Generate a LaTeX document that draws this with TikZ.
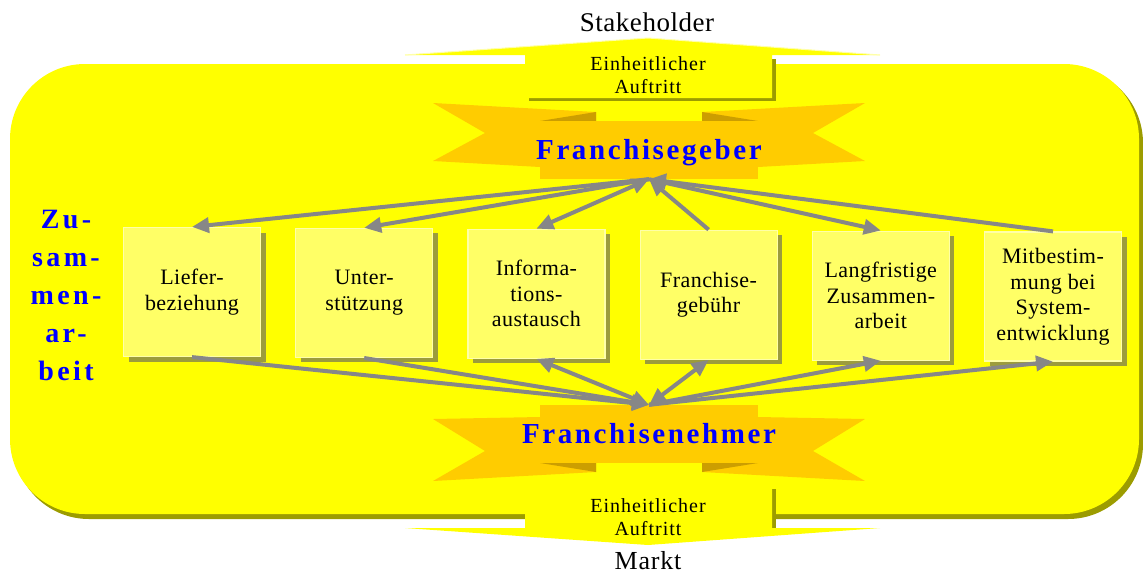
\documentclass[tikz,border=0pt]{standalone}
\usepackage{fontspec}
\setmainfont{Liberation Serif}
\usetikzlibrary{arrows.meta,shadows}

\definecolor{plate}{HTML}{FFFF00}
\definecolor{plateshadow}{HTML}{9C9C00}
\definecolor{cardfill}{HTML}{FFFF66}
\definecolor{cardedge}{HTML}{FFFFA8}
\definecolor{cardshadow}{HTML}{9C9C3C}
\definecolor{ribbon}{HTML}{FFCC00}
\definecolor{ribbonfold}{HTML}{CC9E00}
\definecolor{arrowgray}{HTML}{878787}
\definecolor{titleblue}{HTML}{0000FF}

\begin{document}
\begin{tikzpicture}[
    x=1pt, y=-1pt,
    card/.style={
        inner sep=0pt,
        rectangle,
        minimum width=137pt,
        minimum height=129pt,
        fill=cardfill,
        draw=cardedge,
        line width=1.2pt,
        drop shadow={shadow xshift=5pt,shadow yshift=-5pt,fill=cardshadow,opacity=1},
        align=center,
        font=\fontsize{22}{25.5}\selectfont\addfontfeature{LetterSpace=2},
    },
    band/.style={
        inner sep=0pt,
        rectangle,
        minimum width=218pt,
        minimum height=58pt,
        fill=ribbon,
        text=titleblue,
        text height=19.5pt,
        text depth=0pt,
        font=\fontsize{29}{32}\selectfont\bfseries\addfontfeature{LetterSpace=9},
    },
    plain/.style={
        inner sep=0pt,
        align=center,
        font=\fontsize{20}{23}\selectfont\addfontfeature{LetterSpace=5},
    },
    arr/.style={
        draw=arrowgray,
        line width=4pt,
        -{Triangle[length=17pt,width=15pt]},
    },
    twoway/.style={
        arr,
        {Triangle[length=17pt,width=15pt]}-{Triangle[length=17pt,width=15pt]},
    },
]
    \useasboundingbox (0,0) rectangle (1143,574);

    \fill[plateshadow,rounded corners=75pt] (14,68) rectangle (1143,519);
    \fill[plate,rounded corners=75pt] (10,64) rectangle (1139,514);

    % oben: Stakeholder
    \fill[plateshadow] (529,59) rectangle (776,101);
    \fill[plate] (405,55) -- (648,38) -- (880,55) -- (772,55) -- (772,98) -- (525,98) -- (525,55) -- cycle;
    \draw[cardedge,line width=1pt] (405,55) -- (648,38) -- (880,55);
    \node[plain,font=\fontsize{27}{30}\selectfont\addfontfeature{LetterSpace=2}] (stakeholder) at (647,22) {Stakeholder};
    \node[plain] (auftrittOben) at (648,75) {Einheitlicher\\Auftritt};

    % unten: Markt
    \fill[plateshadow] (529,489) rectangle (776,528);
    \fill[plate] (525,485) -- (772,485) -- (772,528) -- (880,528) -- (648,545) -- (405,528) -- (525,528) -- cycle;
    \node[plain,font=\fontsize{26}{30}\selectfont\addfontfeature{LetterSpace=3}] (markt) at (648,561) {Markt};
    \node[plain] (auftrittUnten) at (648,517) {Einheitlicher\\Auftritt};

    \fill[ribbon] (433,103) -- (596,112) -- (596,167) -- (540,167) -- (433,161) -- (485,133) -- cycle;
    \fill[ribbon] (865,103) -- (702,112) -- (702,167) -- (758,167) -- (865,161) -- (813,133) -- cycle;
    \fill[ribbonfold] (540,121) -- (596,112) -- (596,122) -- cycle;
    \fill[ribbonfold] (758,121) -- (702,112) -- (702,122) -- cycle;
    \node[band] (geber) at (649,150) {\makebox[0pt]{Franchisegeber}};

    \fill[ribbon] (433,481) -- (596,472) -- (596,417) -- (540,417) -- (433,419) -- (485,451) -- cycle;
    \fill[ribbon] (865,481) -- (702,472) -- (702,417) -- (758,417) -- (865,419) -- (813,451) -- cycle;
    \fill[ribbonfold] (540,463) -- (596,472) -- (596,462) -- cycle;
    \fill[ribbonfold] (758,463) -- (702,472) -- (702,462) -- cycle;
    \node[band] (nehmer) at (649,434) {\makebox[0pt]{Franchisenehmer}};

    \node[inner sep=0pt,align=center,text=titleblue,font=\fontsize{28}{38}\selectfont\bfseries\addfontfeature{LetterSpace=12}]
        (zusammen) at (66,295) {Zu-\\sam-\\men-\\ar-\\beit};

    \foreach \txt [count=\i] in {{Liefer-\\beziehung},{Unter-\\stützung},{Informa-\\tions-\\austausch},{Franchise-\\gebühr},{Langfristige\\Zusammen-\\arbeit},{Mitbestim-\\mung bei\\System-\\entwicklung}} {
        \node[card] (card\i) at ({192+(\i-1)*172.2}, {292+(\i-1)*0.9}) {\txt};
    }

    \draw[arr] (geber.south) -- (card1.north);
    \draw[arr] (geber.south) -- (card2.north);
    \draw[twoway] (card3.north) -- (geber.south);
    \draw[arr] (card4.north) -- (geber.south);
    \draw[arr] (geber.south) -- (card5.north);
    \draw[arr] (card6.north) -- (geber.south);

    \draw[arr] (card1.south) -- (nehmer.north);
    \draw[arr] (card2.south) -- (nehmer.north);
    \draw[twoway] (card3.south) -- (nehmer.north);
    \draw[twoway] (card4.south) -- (nehmer.north);
    \draw[arr] (nehmer.north) -- (card5.south);
    \draw[arr] (nehmer.north) -- (card6.south);
\end{tikzpicture}
\end{document}
